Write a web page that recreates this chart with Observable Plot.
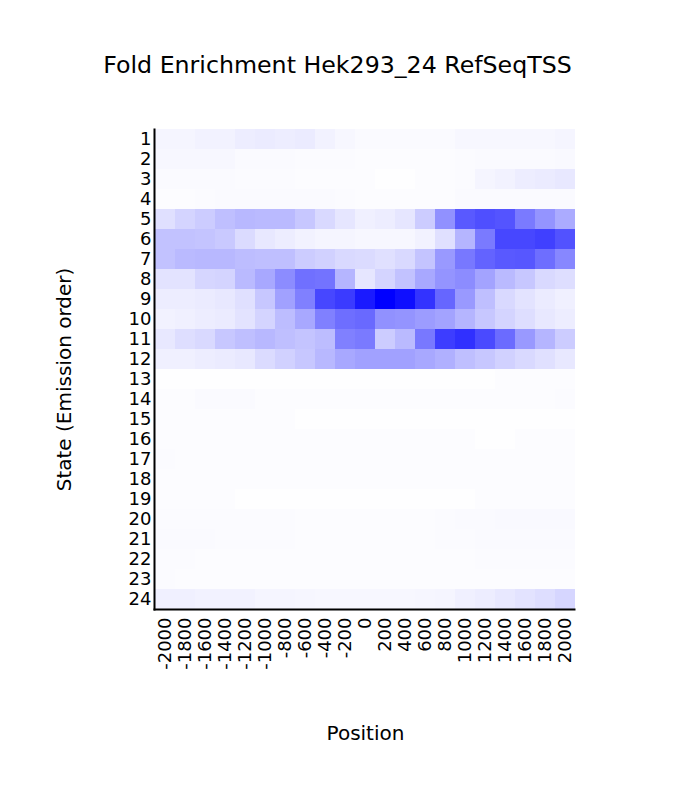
<!DOCTYPE html>
<html>
<head>
<meta charset="utf-8">
<script src="https://cdn.jsdelivr.net/npm/d3@7"></script>
<script src="https://cdn.jsdelivr.net/npm/@observablehq/plot@0.6"></script>
<style>
  html, body { margin: 0; padding: 0; background: #fff; }
  #wrap { width: 675px; font-family: "DejaVu Sans", sans-serif; }
  #title { position: relative; height: 100px; }
  #title span { position: absolute; left: 0; right: 0; top: 53px; text-align: center;
    font-size: 23.7px; line-height: 24px; color: #000; }
</style>
</head>
<body>
<div id="wrap">
  <div id="title"><span>Fold Enrichment Hek293_24 RefSeqTSS</span></div>
  <div id="chart"></div>
</div>
<script>
const positions = [-2000,-1800,-1600,-1400,-1200,-1000,-800,-600,-400,-200,0,200,400,600,800,1000,1200,1400,1600,1800,2000];
const states = [1,2,3,4,5,6,7,8,9,10,11,12,13,14,15,16,17,18,19,20,21,22,23,24];
// relative fold enrichment (0 = white, 1 = full blue), one row per state
const enrichment = [
  [0.04,0.04,0.05,0.05,0.07,0.08,0.07,0.08,0.05,0.03,0.02,0.02,0.02,0.02,0.02,0.03,0.03,0.03,0.03,0.03,0.04],
  [0.03,0.03,0.03,0.03,0.02,0.02,0.02,0.015,0.015,0.015,0.01,0.01,0.01,0.01,0.01,0.015,0.02,0.02,0.02,0.02,0.025],
  [0.02,0.02,0.02,0.02,0.015,0.015,0.015,0.01,0.01,0.01,0.01,0.005,0.005,0.01,0.01,0.015,0.04,0.05,0.07,0.08,0.09],
  [0.01,0.01,0.015,0.02,0.02,0.02,0.02,0.02,0.02,0.015,0.01,0.01,0.01,0.01,0.01,0.02,0.02,0.02,0.02,0.02,0.02],
  [0.12,0.17,0.2,0.25,0.28,0.27,0.27,0.22,0.15,0.1,0.06,0.07,0.1,0.2,0.43,0.65,0.69,0.67,0.52,0.42,0.33],
  [0.24,0.24,0.23,0.21,0.14,0.09,0.07,0.05,0.04,0.04,0.03,0.03,0.03,0.05,0.12,0.29,0.52,0.72,0.72,0.75,0.68],
  [0.24,0.27,0.28,0.28,0.26,0.25,0.25,0.2,0.18,0.15,0.14,0.12,0.15,0.23,0.4,0.53,0.61,0.65,0.66,0.57,0.47],
  [0.11,0.11,0.16,0.17,0.27,0.34,0.45,0.56,0.55,0.29,0.1,0.17,0.24,0.34,0.42,0.45,0.36,0.27,0.22,0.15,0.13],
  [0.07,0.07,0.08,0.09,0.12,0.22,0.37,0.5,0.72,0.77,0.9,1.0,0.94,0.8,0.6,0.4,0.25,0.15,0.11,0.08,0.06],
  [0.05,0.06,0.07,0.08,0.11,0.17,0.26,0.34,0.5,0.57,0.59,0.43,0.42,0.39,0.36,0.29,0.22,0.17,0.13,0.09,0.07],
  [0.09,0.13,0.15,0.22,0.25,0.28,0.25,0.23,0.26,0.5,0.52,0.2,0.27,0.53,0.76,0.81,0.71,0.58,0.4,0.29,0.2],
  [0.06,0.06,0.07,0.08,0.09,0.14,0.18,0.22,0.28,0.34,0.37,0.37,0.37,0.34,0.31,0.25,0.22,0.18,0.15,0.12,0.09],
  [0.005,0.005,0.005,0.005,0.005,0.005,0.005,0.005,0.005,0.005,0.005,0.005,0.005,0.005,0.005,0.005,0.005,0.01,0.01,0.01,0.01],
  [0.01,0.01,0.02,0.02,0.02,0.01,0.01,0.01,0.01,0.01,0.01,0.01,0.01,0.01,0.01,0.01,0.01,0.01,0.01,0.01,0.015],
  [0.01,0.01,0.01,0.01,0.01,0.01,0.01,0.005,0.005,0.005,0.005,0.005,0.005,0.005,0.005,0.005,0.005,0.005,0.005,0.005,0.005],
  [0.01,0.01,0.01,0.01,0.01,0.01,0.01,0.01,0.01,0.01,0.01,0.01,0.01,0.01,0.01,0.01,0.005,0.005,0.01,0.01,0.01],
  [0.015,0.01,0.01,0.01,0.01,0.01,0.01,0.01,0.01,0.01,0.01,0.01,0.01,0.01,0.01,0.01,0.01,0.01,0.01,0.01,0.01],
  [0.01,0.01,0.01,0.01,0.01,0.01,0.01,0.01,0.01,0.01,0.01,0.01,0.01,0.01,0.01,0.01,0.01,0.01,0.01,0.01,0.01],
  [0.01,0.01,0.01,0.01,0.005,0.005,0.005,0.005,0.005,0.005,0.005,0.005,0.005,0.005,0.005,0.005,0.01,0.01,0.01,0.01,0.01],
  [0.015,0.015,0.015,0.015,0.015,0.015,0.015,0.01,0.01,0.01,0.01,0.01,0.01,0.01,0.015,0.02,0.02,0.025,0.025,0.025,0.025],
  [0.02,0.02,0.02,0.015,0.015,0.015,0.015,0.01,0.01,0.01,0.01,0.01,0.01,0.01,0.015,0.015,0.02,0.02,0.02,0.02,0.02],
  [0.015,0.015,0.01,0.01,0.01,0.01,0.01,0.01,0.01,0.01,0.01,0.01,0.01,0.01,0.01,0.01,0.015,0.015,0.015,0.015,0.015],
  [0.015,0.01,0.01,0.01,0.01,0.01,0.01,0.01,0.01,0.01,0.01,0.01,0.01,0.01,0.01,0.01,0.01,0.01,0.01,0.01,0.01],
  [0.06,0.06,0.05,0.05,0.05,0.04,0.04,0.035,0.03,0.03,0.03,0.03,0.03,0.035,0.04,0.06,0.07,0.09,0.11,0.13,0.16]
];

const cells = states.flatMap((s, i) => positions.map((p, j) => ({state: s, position: p, value: enrichment[i][j]})));

const chart = Plot.plot({
  width: 675,
  height: 697,
  marginTop: 29,
  marginBottom: 188,
  marginLeft: 155,
  marginRight: 100,
  style: {fontFamily: "DejaVu Sans, sans-serif", fontSize: "18px", color: "#000", background: "#fff"},
  x: {type: "band", domain: positions, padding: 0, label: null},
  y: {type: "band", domain: states, padding: 0, label: null},
  color: {type: "linear", domain: [0, 1], range: ["#ffffff", "#0000ff"], interpolate: "rgb"},
  marks: [
    Plot.cell(cells, {x: "position", y: "state", fill: "value", inset: 0}),
    Plot.axisX({tickRotate: -90, tickSize: 0, tickPadding: 8, label: null, fontSize: 18, tickFormat: d => String(d)}),
    Plot.axisY({tickSize: 0, tickPadding: 4, label: null, fontSize: 18, tickFormat: d => String(d)}),
    Plot.frame({anchor: "left", stroke: "#000", strokeWidth: 2, dx: -1}),
    Plot.frame({anchor: "bottom", stroke: "#000", strokeWidth: 2, dx: -1}),
    Plot.text(["Position"], {frameAnchor: "bottom", dy: 124, fontSize: 20, fill: "#000", lineAnchor: "middle", textAnchor: "middle"}),
    Plot.text(["State (Emission order)"], {frameAnchor: "left", dx: -91, dy: 10, rotate: -90, fontSize: 20, fill: "#000", lineAnchor: "middle", textAnchor: "middle"})
  ]
});
document.getElementById("chart").appendChild(chart);
</script>
</body>
</html>
